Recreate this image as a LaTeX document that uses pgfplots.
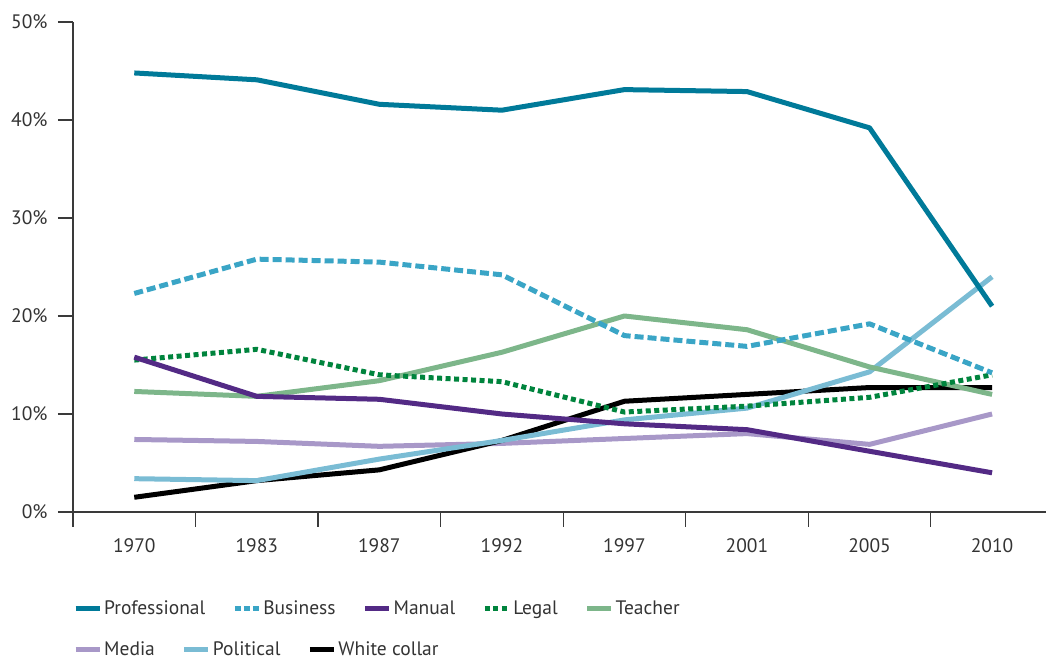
\documentclass[border=0pt]{standalone}
\usepackage{fontspec}
\setmainfont{PT Sans}
\usepackage{pgfplots}
\pgfplotsset{compat=1.18}
\definecolor{cProf}{HTML}{007A99}
\definecolor{cBus}{HTML}{3AA5C6}
\definecolor{cMan}{HTML}{532A85}
\definecolor{cLeg}{HTML}{00843D}
\definecolor{cTea}{HTML}{7DB68A}
\definecolor{cMed}{HTML}{A898C8}
\definecolor{cPol}{HTML}{7ABCD4}
\definecolor{cWhi}{HTML}{000000}
\definecolor{axisgray}{HTML}{3A3A3A}
\definecolor{txtgray}{HTML}{333333}
\tikzset{
 sProf/.style={color=cProf, line width=5pt, line join=round},
 sBus/.style={color=cBus, line width=5pt, line join=round, dash pattern=on 9pt off 4pt},
 sMan/.style={color=cMan, line width=5pt, line join=round},
 sLeg/.style={color=cLeg, line width=5pt, line join=round, dash pattern=on 5pt off 3.5pt},
 sTea/.style={color=cTea, line width=5pt, line join=round},
 sMed/.style={color=cMed, line width=5pt, line join=round},
 sPol/.style={color=cPol, line width=5pt, line join=round},
 sWhi/.style={color=cWhi, line width=5pt, line join=round},
}
\pgfplotsset{
 common/.style={
  at={(73pt,148pt)}, anchor=south west,
  scale only axis, width=973pt, height=490pt,
  xmin=-0.5, xmax=7.44, ymin=0, ymax=50,
 },
 leg/.style={
  legend columns=-1,
  legend style={draw=none, fill=none, inner sep=0pt, anchor=west,
   font=\fontsize{19.5}{22}\selectfont, text=txtgray,
   /tikz/every even column/.append style={column sep=25pt}},
  legend cell align=left,
  legend image code/.code={\draw[##1] (0pt,0pt) -- (24pt,0pt);},
 },
}
\begin{document}
\begin{tikzpicture}[font=\fontsize{19.5}{22}\selectfont]
\useasboundingbox (0,0) rectangle (1046pt,660pt);
\begin{axis}[common, leg,
 legend style={at={(0,-0.196)}},
 axis x line=bottom, axis y line=left,
 axis line style={-, line width=1.3pt, color=axisgray},
 xtick={-0.5,0.5,1.5,2.5,3.5,4.5,5.5,6.5}, xticklabels={},
 extra x ticks={0,1,2,3,4,5,6,7},
 extra x tick labels={1970,1983,1987,1992,1997,2001,2005,2010},
 extra x tick style={major tick length=0pt, tick label style={yshift=-23pt}},
 ytick={0,10,20,30,40,50}, yticklabels={0\%,10\%,20\%,30\%,40\%,50\%},
 yticklabel style={xshift=-7pt},
 tick align=outside, major tick length=15pt,
 tick style={line width=1.3pt, color=axisgray},
 tick label style={text=txtgray, font=\fontsize{19.5}{22}\selectfont},
 clip=false,
]
% Media
\addplot[sMed, forget plot] coordinates {(0,7.4) (1,7.2) (2,6.7) (3,7.0) (4,7.5) (5,8.0) (6,6.9) (7,10.0)};
% White collar
\addplot[sWhi, forget plot] coordinates {(0,1.5) (1,3.2) (2,4.3) (3,7.3) (4,11.3) (5,12.0) (6,12.7) (7,12.7)};
% Political
\addplot[sPol, forget plot] coordinates {(0,3.4) (1,3.2) (2,5.4) (3,7.3) (4,9.4) (5,10.6) (6,14.3) (7,24.0)};
% Teacher
\addplot[sTea, forget plot] coordinates {(0,12.3) (1,11.8) (2,13.4) (3,16.3) (4,20.0) (5,18.6) (6,14.8) (7,12.0)};
% Legal
\addplot[sLeg, forget plot] coordinates {(0,15.5) (1,16.6) (2,14.0) (3,13.3) (4,10.2) (5,10.8) (6,11.7) (7,14.0)};
% Manual
\addplot[sMan, forget plot] coordinates {(0,15.8) (1,11.8) (2,11.5) (3,10.0) (4,9.0) (5,8.4) (6,6.2) (7,4.0)};
% Business
\addplot[sBus, forget plot] coordinates {(0,22.3) (1,25.8) (2,25.5) (3,24.2) (4,18.0) (5,16.9) (6,19.2) (7,14.2)};
% Professional
\addplot[sProf, forget plot] coordinates {(0,44.8) (1,44.1) (2,41.6) (3,41.0) (4,43.1) (5,42.9) (6,39.2) (7,21.0)};
\addlegendimage{sProf}\addlegendentry{Professional}
\addlegendimage{sBus, dash pattern=on 6pt off 3pt}\addlegendentry{Business}
\addlegendimage{sMan}\addlegendentry{Manual}
\addlegendimage{sLeg}\addlegendentry{Legal}
\addlegendimage{sTea}\addlegendentry{Teacher}
\end{axis}
\begin{axis}[common, leg, hide axis,
 legend style={at={(0,-0.2796)}},
]
\addlegendimage{sMed}\addlegendentry{Media}
\addlegendimage{sPol}\addlegendentry{Political}
\addlegendimage{sWhi}\addlegendentry{White collar}
\end{axis}
\end{tikzpicture}
\end{document}
